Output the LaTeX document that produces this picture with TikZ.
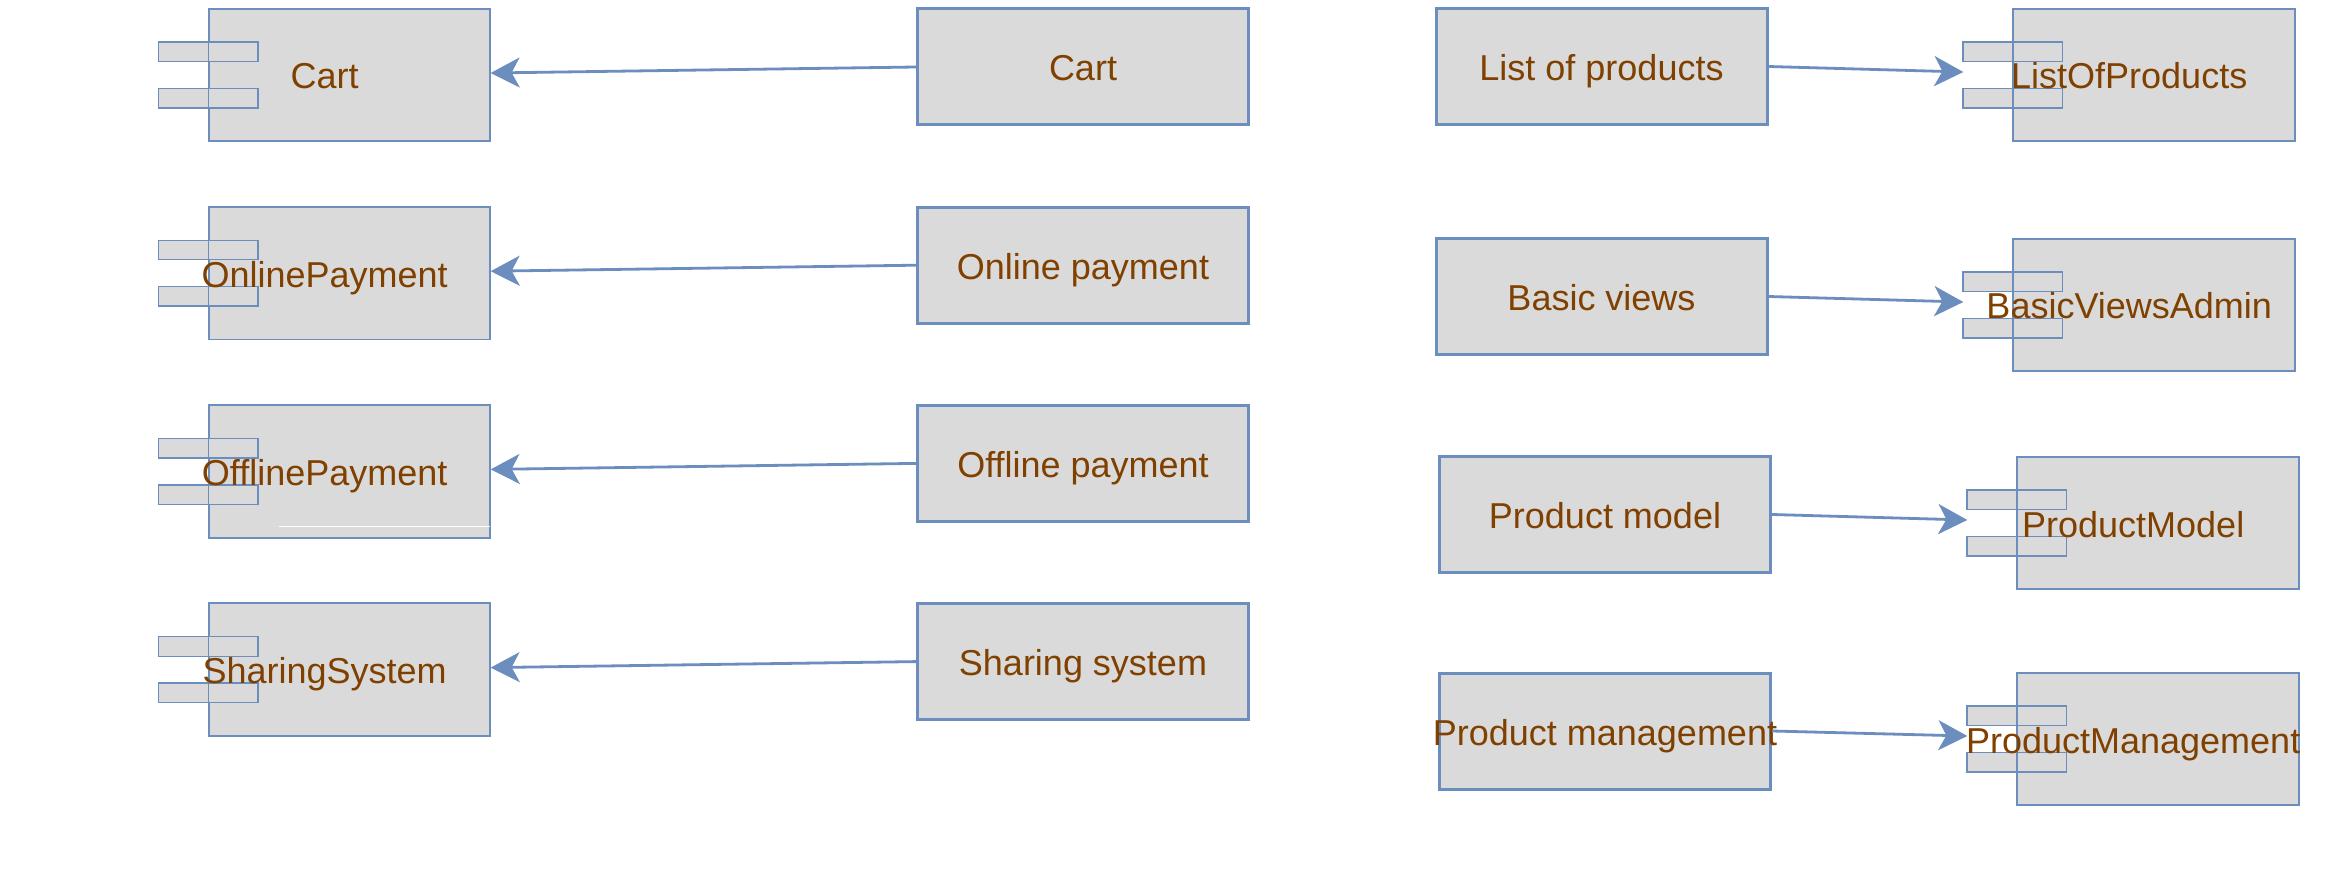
\documentclass[tikz,border=0pt]{standalone}
\usepackage{fontspec}
\setmainfont{Liberation Sans}
\usetikzlibrary{arrows.meta,positioning}
\definecolor{edgeblue}{HTML}{6C8EBF}
\definecolor{boxgray}{HTML}{DADADA}
\definecolor{txtbrown}{HTML}{7F4000}

\begin{document}
\begin{tikzpicture}[x=0.5pt,y=-0.5pt]
            \tikzstyle{every node}=[font=\fontsize{18}{22}\selectfont, text=txtbrown, inner sep=0pt];
            \tikzstyle{req}=[draw=edgeblue, fill=boxgray, line width=1.5pt, minimum width=165.5pt, minimum height=58pt, text height=14pt, text depth=0pt];
            \tikzstyle{body}=[draw=edgeblue, fill=boxgray, line width=0.65pt, minimum width=140.5pt, minimum height=66pt];
            \tikzstyle{tab}=[draw=edgeblue, fill=boxgray, line width=0.65pt, minimum width=49.75pt, minimum height=9.75pt];
            \tikzstyle{compname}=[text height=14pt, text depth=0pt];
            \tikzstyle{link}=[draw=edgeblue, line width=1.4pt, -{Stealth[length=14.5pt,width=15pt,inset=4pt]}];
            \useasboundingbox (0,0) rectangle (2342,877);
            % left column: components fed from the right
            \foreach \i/\comp/\req in {0/Cart/Cart, 1/OnlinePayment/Online payment,
                2/OfflinePayment/Offline payment, 3/SharingSystem/Sharing system} {
                \node[body] (c\i) at (349.5, 75+198.2*\i) {};
                \node[tab] (ct\i) at ([yshift=11.6pt]c\i.west) {};
                \node[tab] (cb\i) at ([yshift=-11.6pt]c\i.west) {};
                \draw[edgeblue, line width=0.65pt] (c\i.north west) rectangle (c\i.south east);
                \node[compname] (cl\i) at ([xshift=-12.4pt]c\i.center) {\comp};
                \node[req] (r\i) at (1083, 67+198.2*\i) {\makebox[0pt]{\req}};
                \draw[link] (r\i.west) -- ([yshift=1pt]c\i.east);
            }
            \draw[white, line width=0.5pt] (279,526) -- (490,526);
            % right column: requirements into components
            \foreach \j/\bx/\by/\cx/\cy/\req/\comp in {0/1601.5/66.5/2154/75/List of products/ListOfProducts,
                1/1601.5/296.5/2154/305/Basic views/BasicViewsAdmin,
                2/1605/514.5/2158/523/Product model/ProductModel,
                3/1605/731/2158/739/Product management/ProductManagement} {
                \node[body] (d\j) at (\cx,\cy) {};
                \node[tab] (dt\j) at ([yshift=11.6pt]d\j.west) {};
                \node[tab] (db\j) at ([yshift=-11.6pt]d\j.west) {};
                \draw[edgeblue, line width=0.65pt] (d\j.north west) rectangle (d\j.south east);
                \node[compname] (dl\j) at ([xshift=-12.4pt]d\j.center) {\comp};
                \node[req] (q\j) at (\bx,\by) {\makebox[0pt]{\req}};
                \draw[link] (q\j.east) -- ([xshift=-24.75pt,yshift=1.5pt]d\j.west);
            }
        \end{tikzpicture}
\end{document}
